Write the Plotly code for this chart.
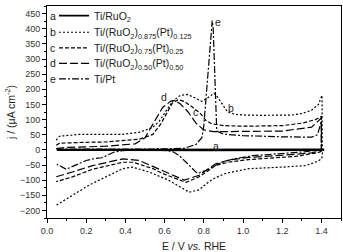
import plotly.graph_objects as go

# ---------------- data ----------------
a_x_anodic = [0.05, 0.4, 0.8, 1.2, 1.41]
a_y_anodic = [1, 1, 1, 1, 2]
a_x_cathodic = [1.41, 1.2, 0.8, 0.4, 0.05]
a_y_cathodic = [-1, -2, -2, -1, -1]

b_x_anodic = [0.047, 0.064, 0.165, 0.30, 0.384, 0.47, 0.537, 0.572, 0.60, 0.64, 0.68, 0.716, 0.76,
              0.79, 0.82, 0.852, 0.875, 0.894, 0.92, 0.96, 1.01, 1.1, 1.25, 1.30, 1.35, 1.385, 1.403]
b_y_anodic = [32, 45, 51, 51, 51, 58, 73, 94, 120, 160, 180, 183, 170,
              160, 172, 187, 170, 153, 126, 117, 115, 114, 115, 120, 131, 150, 180]
b_x_cathodic = [1.405, 1.40, 1.38, 1.35, 1.32, 1.2, 1.03, 0.91, 0.86, 0.826, 0.776, 0.725, 0.69,
                0.62, 0.52, 0.436, 0.386, 0.30, 0.216, 0.13, 0.047]
b_y_cathodic = [-20, -30, -38, -45, -52, -57, -62, -78, -92, -105, -132, -140, -127,
                -100, -73, -57, -62, -89, -116, -150, -183]

c_x_anodic = [0.047, 0.064, 0.2, 0.3, 0.47, 0.54, 0.58, 0.61, 0.64, 0.67, 0.70, 0.74, 0.78, 0.81,
              0.84, 0.9, 1.0, 1.2, 1.3, 1.37, 1.40]
c_y_anodic = [15, 22, 25, 26, 35, 51, 85, 120, 155, 166, 160, 142, 122, 98,
              86, 80, 78, 80, 88, 100, 110]
c_x_cathodic = [1.40, 1.38, 1.335, 1.28, 1.03, 0.93, 0.86, 0.776, 0.71, 0.69, 0.59, 0.54, 0.44,
                0.386, 0.233, 0.13, 0.047]
c_y_cathodic = [-5, -10, -14, -21, -32, -40, -52, -89, -107, -103, -78, -62, -41,
                -41, -64, -89, -105]

d_x_anodic = [0.047, 0.1, 0.3, 0.45, 0.5, 0.55, 0.59, 0.63, 0.65, 0.68, 0.72, 0.76, 0.8, 0.85,
              1.0, 1.2, 1.35, 1.40]
d_y_anodic = [4, 8, 12, 20, 40, 95, 140, 160, 163, 152, 125, 88, 66, 60,
              60, 62, 75, 105]
d_x_cathodic = [1.40, 1.38, 1.35, 1.28, 1.03, 0.93, 0.86, 0.776, 0.70, 0.69, 0.59, 0.555, 0.47,
                0.386, 0.233, 0.13, 0.047]
d_y_cathodic = [-2, -5, -10, -14, -25, -33, -46, -84, -100, -97, -68, -57, -35,
                -30, -52, -73, -89]

e_x_anodic = [0.05, 0.3, 0.6, 0.70, 0.76, 0.79, 0.80, 0.815, 0.83, 0.843, 0.848, 0.855, 0.862,
              0.866, 0.9, 1.0, 1.2, 1.35, 1.38, 1.40]
e_y_anodic = [2, 2, 3, 5, 18, 40, 80, 200, 330, 427, 400, 250, 100,
              62, 52, 47, 43, 42, 50, 95]
e_x_cathodic = [1.40, 1.39, 1.35, 1.32, 1.2, 1.05, 0.95, 0.91, 0.877, 0.83, 0.81, 0.767, 0.725,
                0.675, 0.64, 0.6, 0.45, 0.384, 0.34, 0.30, 0.28, 0.25, 0.2, 0.165, 0.098, 0.064, 0.05]
e_y_cathodic = [0, -2, -3, -6, -12, -19, -30, -38, -45, -62, -68, -78, -52,
                -19, -5, -2, -1, -3, -8, -20, -26, -28, -35, -45, -64, -52, -48]

letters = ["a", "b", "c", "d", "e"]
names = ["Ti/RuO<sub>2</sub>",
         "Ti/(RuO<sub>2</sub>)<sub>0.875</sub>(Pt)<sub>0.125</sub>",
         "Ti/(RuO<sub>2</sub>)<sub>0.75</sub>(Pt)<sub>0.25</sub>",
         "Ti/(RuO<sub>2</sub>)<sub>0.50</sub>(Pt)<sub>0.50</sub>",
         "Ti/Pt"]
curve_label_x = [0.86, 0.937, 0.758, 0.598, 0.87]
curve_label_y = [13, 137, 126, 174, 421]

x_ticks = [0.0, 0.2, 0.4, 0.6, 0.8, 1.0, 1.2, 1.4]
y_ticks = list(range(-200, 451, 50))

# ---------------- figure ----------------
FONT = "Liberation Sans, Arial, sans-serif"
series = [
    (a_x_anodic + a_x_cathodic, a_y_anodic + a_y_cathodic, "solid", 1.7),
    (b_x_anodic + b_x_cathodic, b_y_anodic + b_y_cathodic, "2px,2px", 1.2),
    (c_x_anodic + c_x_cathodic, c_y_anodic + c_y_cathodic, "4px,2px", 1.2),
    (d_x_anodic + d_x_cathodic, d_y_anodic + d_y_cathodic, "8px,3px", 1.2),
    (e_x_anodic + e_x_cathodic, e_y_anodic + e_y_cathodic, "7px,2px,2px,2px", 1.2),
]

fig = go.Figure()
legend_ids = ["legend", "legend2", "legend3", "legend4", "legend5"]
for i, (xs, ys, dash, w) in enumerate(series):
    fig.add_trace(go.Scatter(x=xs, y=ys, mode="lines", name=names[i],
                             line=dict(color="black", width=w, dash=dash),
                             legend=legend_ids[i], showlegend=True))

W, H = 343, 252
ML, MR, MT, MB = 47, 1, 3, 31
PW, PH = W - ML - MR, H - MT - MB
row_px = [13, 30, 46, 62, 78]
legend_left_px = 54

layout_legends = {}
for i, lid in enumerate(legend_ids):
    layout_legends[lid] = dict(
        x=(legend_left_px - ML) / PW, xanchor="left",
        y=(H - MB - row_px[i]) / PH, yanchor="middle",
        bgcolor="rgba(0,0,0,0)", borderwidth=0,
        font=dict(family=FONT, size=10.5, color="#222"),
        itemwidth=30,
    )

ann = []
for i, L in enumerate(letters):
    ann.append(dict(x=(53 - ML) / PW, y=(H - MB - row_px[i]) / PH, xref="paper", yref="paper",
                    text=L, showarrow=False, xanchor="center", yanchor="middle",
                    font=dict(family=FONT, size=10.5, color="#222")))
    ann.append(dict(x=curve_label_x[i], y=curve_label_y[i], xref="x", yref="y",
                    text=L, showarrow=False, xanchor="center", yanchor="middle",
                    font=dict(family=FONT, size=10.5, color="#222")))

fig.update_layout(
    width=W, height=H,
    margin=dict(l=ML, r=MR, t=MT, b=MB),
    paper_bgcolor="white", plot_bgcolor="white",
    font=dict(family=FONT, size=9, color="#222"),
    annotations=ann,
    **layout_legends,
)
fig.update_xaxes(range=[0, 1.5], tickvals=x_ticks, ticktext=[f"{v:.1f}" for v in x_ticks],
                 ticks="outside", ticklen=4, tickwidth=1, tickcolor="black",
                 minor=dict(ticks="outside", ticklen=2, dtick=0.1, tick0=0, tickcolor="black"),
                 showline=True, linecolor="black", linewidth=1, mirror=True,
                 showgrid=False, zeroline=False,
                 tickfont=dict(family=FONT, size=9, color="#333"),
                 title=dict(text="E / V <i>vs.</i> RHE", standoff=8,
                            font=dict(family=FONT, size=10.5, color="#222")))
fig.update_yaxes(range=[-225, 475], tickvals=y_ticks,
                 ticks="outside", ticklen=4, tickwidth=1, tickcolor="black",
                 minor=dict(ticks="outside", ticklen=2, dtick=25, tick0=0, tickcolor="black"),
                 showline=True, linecolor="black", linewidth=1, mirror=True,
                 showgrid=False, zeroline=False,
                 tickfont=dict(family=FONT, size=9, color="#333"),
                 title=dict(text="j / (μA cm<sup>-2</sup>)", standoff=2,
                            font=dict(family=FONT, size=10.5, color="#222")))

fig.write_html("out.html")
